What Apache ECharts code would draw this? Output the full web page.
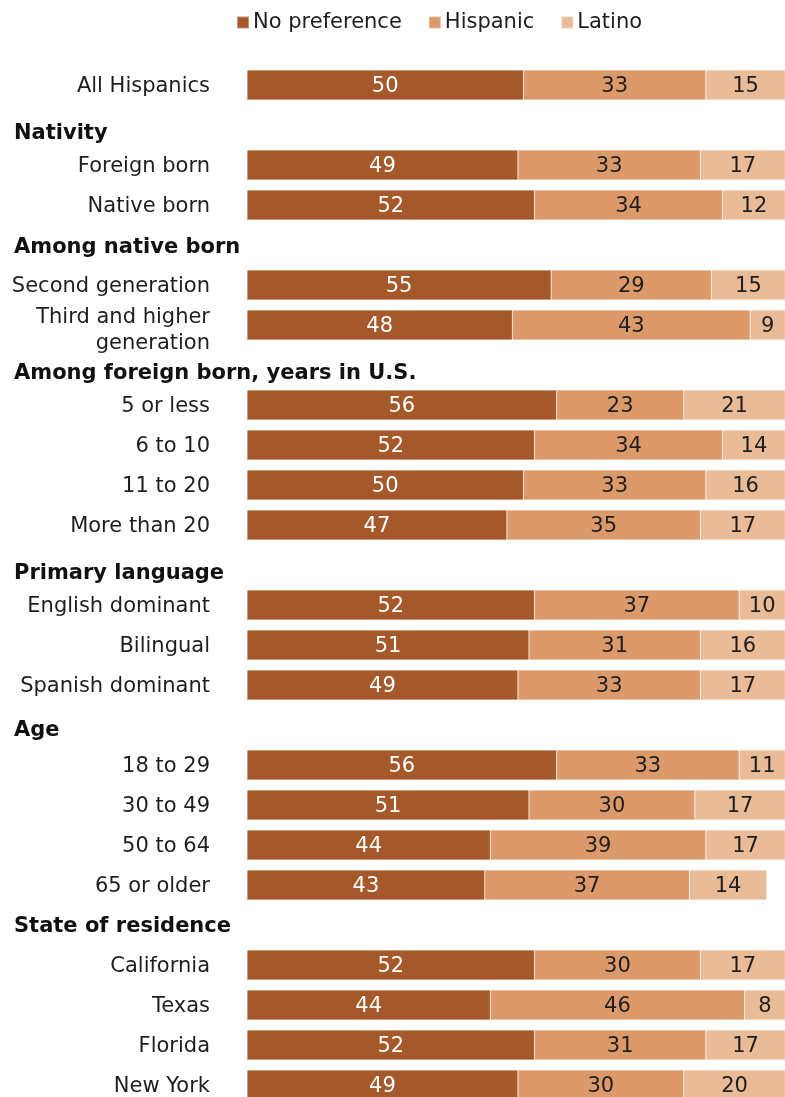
<!DOCTYPE html>
<html>
<head>
<meta charset="utf-8">
<script src="https://cdn.jsdelivr.net/npm/echarts@6/dist/echarts.min.js"></script>
<style>
  html, body { margin: 0; padding: 0; background: #fff; overflow: hidden; }
  #chart { width: 785px; height: 1105px; }
</style>
</head>
<body>
<div id="chart"></div>
<script>
// Rows from top to bottom; section headings are rows without bars.
const categories = [
  'All Hispanics',
  'Nativity',
  'Foreign born', 'Native born',
  'Among native born',
  'Second generation', 'Third and higher\ngeneration',
  'Among foreign born, years in U.S.',
  '5 or less', '6 to 10', '11 to 20', 'More than 20',
  'Primary language',
  'English dominant', 'Bilingual', 'Spanish dominant',
  'Age',
  '18 to 29', '30 to 49', '50 to 64', '65 or older',
  'State of residence',
  'California', 'Texas', 'Florida', 'New York'
];

const sectionHeaders = [
  'Nativity', 'Among native born', 'Among foreign born, years in U.S.',
  'Primary language', 'Age', 'State of residence'
];

const seriesNames = ['No preference', 'Hispanic', 'Latino'];

const noPreference = [50, null, 49, 52, null, 55, 48, null, 56, 52, 50, 47, null, 52, 51, 49, null, 56, 51, 44, 43, null, 52, 44, 52, 49];
const hispanic     = [33, null, 33, 34, null, 29, 43, null, 23, 34, 33, 35, null, 37, 31, 33, null, 33, 30, 39, 37, null, 30, 46, 31, 30];
const latino       = [15, null, 17, 12, null, 15,  9, null, 21, 14, 16, 17, null, 10, 16, 17, null, 11, 17, 17, 14, null, 17,  8, 17, 20];

const colors = ['#A5592A', '#DC996A', '#E9BB96'];
const labelColors = ['#ffffff', '#1e1e1e', '#1e1e1e'];
const FONT = '"DejaVu Sans", Verdana, sans-serif';

// Headings sit a little below the middle of their row; top padding per heading nudges them down.
const headerPad = [13, 1, 13, 13, 7, 0];

const chart = echarts.init(document.getElementById('chart'), null, { renderer: 'canvas' });

const seriesData = [noPreference, hispanic, latino];

const rich = {
  // lines of a wrapped row label
  w: { fontFamily: FONT, fontSize: 21, color: '#1e1e1e', lineHeight: 26, padding: [7, 0, 0, 0] }
};
headerPad.forEach(function (p, i) {
  rich['h' + i] = {
    fontFamily: FONT,
    fontSize: 21,
    fontWeight: 'bold',
    color: '#111',
    width: 196,
    align: 'left',
    padding: [p, 0, 0, 0]
  };
});

const option = {
  animation: false,
  backgroundColor: '#ffffff',
  legend: {
    top: 12,
    left: 236,
    padding: 0,
    itemWidth: 12,
    itemHeight: 12,
    itemGap: 26,
    icon: 'rect',
    textStyle: { fontFamily: FONT, fontSize: 21, color: '#1e1e1e', padding: [0, 0, 0, -1] },
    data: seriesNames
  },
  grid: { left: 247, right: 0, top: 65, bottom: 0, containLabel: false },
  xAxis: {
    type: 'value', min: 0, max: 97.3, show: false
  },
  yAxis: {
    type: 'category',
    inverse: true,
    data: categories,
    axisLine: { show: false },
    axisTick: { show: false },
    splitLine: { show: false },
    axisLabel: {
      interval: 0,
      margin: 37,
      padding: [4, 0, 0, 0],
      fontFamily: FONT,
      fontSize: 21,
      color: '#1e1e1e',
      lineHeight: 26,
      formatter: function (v) {
        const k = sectionHeaders.indexOf(v);
        if (k >= 0) return '{h' + k + '|' + v + '}';
        const lines = v.split('\n');
        if (lines.length > 1) {
          return lines.map(function (l) { return '{w|' + l + '}'; }).join('\n');
        }
        return v;
      },
      rich: rich
    }
  },
  series: seriesNames.map(function (name, i) {
    return {
      name: name,
      type: 'bar',
      stack: 'total',
      barWidth: 30,
      data: seriesData[i],
      itemStyle: { color: colors[i], borderColor: 'rgba(255,255,255,0.35)', borderWidth: 0.6 },
      label: {
        show: true,
        position: 'inside',
        offset: [0, 2],
        fontFamily: FONT,
        fontSize: 21,
        color: labelColors[i],
        formatter: function (p) { return p.value == null ? '' : p.value; }
      }
    };
  })
};

chart.setOption(option);
</script>
</body>
</html>
